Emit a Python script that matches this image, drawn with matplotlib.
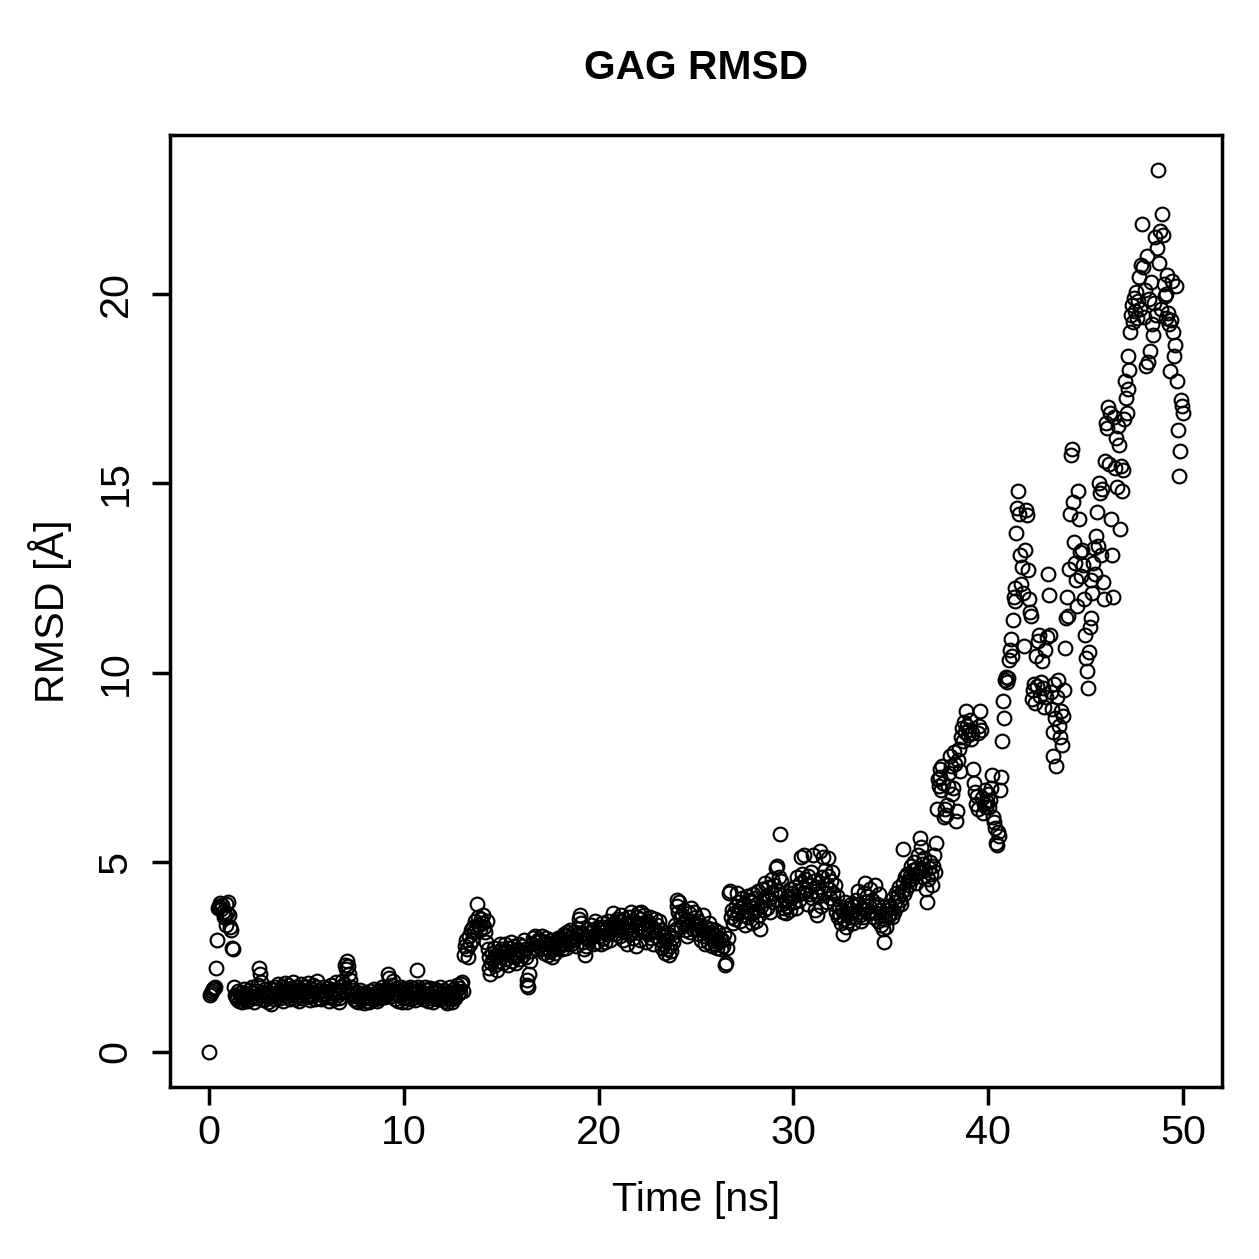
import matplotlib
matplotlib.use("Agg")
import matplotlib.pyplot as plt
import numpy as np

plt.rcParams['font.family'] = ['Liberation Sans', 'DejaVu Sans']

# RMSD of the GAG chain, one frame every 0.05 ns
dt = 0.05
rmsd = [
    # 0 ns
    0.00, 1.50, 1.55, 1.60, 1.65, 1.68, 1.72, 2.20, 2.95, 3.80,
    3.85, 3.92, 3.78, 3.88, 3.70, 3.55, 3.62, 3.35, 3.90, 3.65,
    # 1 ns
    3.95, 3.60, 3.30, 3.20, 2.75, 2.70, 1.70, 1.50, 1.45, 1.40,
    1.60, 1.35, 1.55, 1.45, 1.30, 1.50, 1.65, 1.40, 1.55, 1.35,
    # 2 ns
    1.50, 1.62, 1.38, 1.45, 1.70, 1.55, 1.32, 1.48, 1.60, 1.42,
    1.75, 2.20, 2.05, 1.85, 1.58, 1.40, 1.52, 1.36, 1.65, 1.47,
    # 3 ns
    1.55, 1.30, 1.44, 1.68, 1.25, 1.50, 1.62, 1.38, 1.72, 1.56,
    1.45, 1.80, 1.60, 1.42, 1.53, 1.70, 1.35, 1.58, 1.82, 1.64,
    # 4 ns
    1.48, 1.75, 1.55, 1.40, 1.68, 1.52, 1.85, 1.60, 1.38, 1.70,
    1.46, 1.58, 1.35, 1.65, 1.78, 1.50, 1.42, 1.62, 1.55, 1.72,
    # 5 ns
    1.60, 1.45, 1.82, 1.52, 1.36, 1.66, 1.48, 1.75, 1.58, 1.40,
    1.70, 1.87, 1.55, 1.42, 1.63, 1.38, 1.50, 1.72, 1.46, 1.60,
    # 6 ns
    1.52, 1.44, 1.68, 1.35, 1.58, 1.76, 1.48, 1.62, 1.40, 1.55,
    1.85, 1.66, 1.50, 1.42, 1.30, 1.57, 1.70, 1.88, 1.62, 1.78,
    # 7 ns
    2.30, 2.18, 2.40, 2.25, 2.05, 1.90, 1.70, 1.55, 1.62, 1.40,
    1.48, 1.35, 1.58, 1.30, 1.45, 1.62, 1.50, 1.38, 1.55, 1.28,
    # 8 ns
    1.42, 1.55, 1.35, 1.48, 1.30, 1.60, 1.45, 1.38, 1.52, 1.66,
    1.40, 1.50, 1.35, 1.58, 1.46, 1.62, 1.42, 1.55, 1.70, 1.48,
    # 9 ns
    1.58, 1.44, 1.65, 1.52, 2.05, 1.95, 1.62, 1.48, 1.75, 1.88,
    1.55, 1.40, 1.68, 1.52, 1.35, 1.60, 1.46, 1.72, 1.30, 1.55,
    # 10 ns
    1.65, 1.42, 1.55, 1.30, 1.48, 1.62, 1.72, 1.40, 1.56, 1.68,
    1.45, 1.58, 1.36, 1.52, 2.15, 1.70, 1.62, 1.50, 1.44, 1.58,
    # 11 ns
    1.38, 1.55, 1.70, 1.46, 1.62, 1.35, 1.52, 1.68, 1.42, 1.58,
    1.30, 1.48, 1.65, 1.55, 1.40, 1.60, 1.45, 1.72, 1.38, 1.54,
    # 12 ns
    1.46, 1.62, 1.35, 1.50, 1.28, 1.44, 1.58, 1.70, 1.40, 1.55,
    1.32, 1.48, 1.65, 1.42, 1.60, 1.75, 1.52, 1.68, 1.58, 1.80,
    # 13 ns
    1.85, 1.60, 2.55, 2.80, 2.95, 2.70, 2.50, 3.05, 2.85, 3.20,
    2.95, 3.30, 3.15, 3.45, 3.30, 3.90, 3.55, 3.35, 3.25, 3.50,
    # 14 ns
    3.40, 3.60, 3.30, 3.15, 2.90, 3.45, 2.70, 2.50, 2.20, 2.05,
    2.35, 2.60, 2.45, 2.75, 2.30, 2.55, 2.15, 2.40, 2.65, 2.85,
    # 15 ns
    2.50, 2.70, 2.35, 2.60, 2.85, 2.45, 2.65, 2.30, 2.75, 2.55,
    2.90, 2.40, 2.60, 2.80, 2.50, 2.35, 2.70, 2.55, 2.85, 2.45,
    # 16 ns
    2.65, 2.80, 2.55, 2.95, 2.70, 2.50, 1.75, 1.90, 1.70, 2.05,
    2.40, 2.65, 2.85, 3.00, 2.75, 3.05, 2.90, 2.70, 2.95, 2.80,
    # 17 ns
    2.95, 2.70, 3.05, 2.85, 2.60, 2.90, 3.00, 2.75, 2.55, 2.85,
    2.65, 2.95, 2.50, 2.80, 2.70, 2.60, 2.90, 2.75, 3.00, 2.85,
    # 18 ns
    2.80, 3.00, 2.70, 2.95, 3.10, 2.85, 3.05, 2.75, 3.15, 2.90,
    3.00, 3.20, 2.85, 3.05, 2.95, 3.15, 3.00, 2.80, 3.10, 3.25,
    # 19 ns
    3.50, 3.60, 3.40, 3.10, 2.90, 2.70, 2.55, 2.80, 3.00, 3.25,
    2.95, 3.15, 3.35, 3.05, 2.85, 3.20, 3.45, 3.10, 2.90, 3.30,
    # 20 ns
    3.05, 3.25, 2.85, 3.15, 3.40, 3.00, 3.30, 2.90, 3.20, 3.10,
    3.45, 3.15, 2.95, 3.35, 3.25, 3.65, 3.40, 3.10, 3.30, 3.50,
    # 21 ns
    3.20, 3.45, 3.05, 3.60, 3.30, 2.95, 3.50, 3.15, 3.40, 2.85,
    3.25, 3.55, 3.10, 3.70, 3.35, 3.00, 3.45, 3.20, 2.80, 3.55,
    # 22 ns
    3.65, 3.30, 3.50, 2.95, 3.70, 3.40, 3.15, 3.60, 3.25, 2.90,
    3.45, 3.10, 3.35, 3.55, 3.00, 3.30, 2.85, 3.20, 3.50, 3.05,
    # 23 ns
    3.35, 3.15, 3.45, 2.95, 3.20, 2.75, 3.05, 2.85, 2.60, 2.95,
    2.70, 3.10, 2.55, 2.80, 2.65, 3.00, 2.90, 3.15, 3.35, 3.25,
    # 24 ns
    4.00, 3.85, 3.70, 3.95, 3.55, 3.30, 3.60, 3.40, 3.75, 3.20,
    3.50, 3.05, 3.35, 3.65, 3.15, 3.80, 3.45, 3.25, 3.70, 3.40,
    # 25 ns
    3.55, 3.25, 3.45, 3.10, 3.35, 2.95, 3.20, 3.60, 3.05, 2.85,
    3.30, 3.15, 2.90, 3.40, 3.05, 3.25, 2.80, 3.10, 2.95, 3.20,
    # 26 ns
    2.85, 3.05, 2.75, 3.15, 2.90, 3.00, 2.70, 2.95, 2.80, 3.10,
    2.30, 2.35, 2.75, 3.00, 4.20, 4.25, 3.55, 3.75, 3.40, 3.65,
    # 27 ns
    3.50, 3.85, 4.20, 3.70, 3.95, 3.45, 3.80, 4.05, 3.60, 3.90,
    3.35, 3.75, 4.10, 3.55, 3.85, 4.00, 3.65, 3.40, 3.95, 4.15,
    # 28 ns
    3.70, 4.05, 3.45, 3.90, 4.25, 3.60, 3.25, 3.85, 4.30, 4.00,
    3.75, 4.45, 4.10, 3.80, 4.35, 4.05, 3.70, 4.20, 4.55, 3.95,
    # 29 ns
    4.40, 4.15, 4.85, 4.90, 4.25, 4.60, 5.75, 4.50, 3.90, 3.70,
    3.80, 4.00, 3.65, 3.85, 4.10, 3.95, 4.30, 3.75, 4.05, 4.20,
    # 30 ns
    4.10, 3.95, 4.35, 3.80, 4.60, 4.25, 4.00, 4.45, 5.15, 4.70,
    4.20, 5.20, 4.55, 4.30, 3.90, 4.65, 4.40, 4.15, 4.75, 4.05,
    # 31 ns
    5.20, 4.50, 3.75, 4.25, 3.60, 4.35, 4.10, 5.30, 3.85, 4.60,
    5.15, 4.20, 4.80, 4.40, 3.95, 4.65, 5.10, 4.30, 4.05, 4.50,
    # 32 ns
    4.75, 4.20, 3.90, 4.40, 3.70, 4.10, 3.55, 3.85, 3.60, 3.40,
    3.75, 3.10, 3.50, 3.95, 3.30, 3.65, 3.45, 3.80, 3.55, 3.90,
    # 33 ns
    3.65, 3.40, 3.85, 3.55, 4.00, 3.70, 4.25, 3.90, 3.60, 3.45,
    3.80, 3.55, 4.20, 4.45, 3.75, 3.95, 4.10, 3.65, 3.85, 4.30,
    # 34 ns
    3.70, 4.00, 3.55, 3.85, 4.40, 3.65, 3.90, 3.45, 4.15, 3.75,
    3.35, 3.60, 3.25, 2.90, 3.50, 3.30, 3.75, 3.55, 3.85, 3.65,
    # 35 ns
    3.80, 3.55, 4.05, 3.70, 3.95, 4.20, 3.85, 4.10, 4.35, 4.00,
    3.90, 4.25, 5.35, 4.45, 4.15, 4.60, 4.30, 4.70, 4.50, 4.40,
    # 36 ns
    4.65, 4.90, 4.55, 4.80, 5.00, 4.70, 4.45, 4.85, 5.20, 4.75,
    5.65, 5.40, 4.95, 4.60, 5.10, 4.80, 4.30, 3.95, 4.55, 4.85,
    # 37 ns
    5.00, 4.70, 4.40, 4.90, 5.20, 4.75, 5.50, 6.40, 7.20, 7.00,
    7.45, 7.25, 6.90, 7.55, 7.10, 6.20, 6.40, 6.25, 6.50, 7.00,
    # 38 ns
    7.35, 7.80, 7.55, 6.80, 6.95, 7.90, 7.60, 6.10, 6.35, 7.70,
    8.00, 7.40, 8.30, 8.55, 8.20, 8.70, 8.45, 9.00, 8.60, 8.35,
    # 39 ns
    8.50, 8.75, 8.25, 8.40, 7.45, 7.10, 6.85, 6.55, 6.75, 6.40,
    8.40, 8.60, 9.00, 8.50, 6.70, 6.30, 6.55, 6.90, 6.45, 6.60,
    # 40 ns
    6.80, 6.45, 6.65, 6.95, 7.30, 6.20, 6.05, 5.90, 5.50, 5.45,
    5.80, 5.70, 6.90, 7.25, 8.20, 9.25, 8.80, 9.80, 9.90, 9.75,
    # 41 ns
    9.85, 10.35, 10.60, 10.90, 10.45, 11.40, 12.00, 12.25, 11.90, 13.70,
    14.35, 14.80, 14.20, 13.10, 12.35, 12.80, 12.10, 10.70, 13.25, 14.30,
    # 42 ns
    14.15, 12.70, 11.95, 11.60, 11.50, 9.30, 9.55, 9.70, 9.20, 10.45,
    9.65, 10.85, 11.00, 9.40, 9.75, 10.30, 9.60, 9.10, 10.60, 9.35,
    # 43 ns
    10.95, 12.60, 12.05, 11.00, 9.50, 9.05, 7.80, 8.45, 9.70, 8.80,
    7.55, 9.35, 9.80, 8.60, 8.30, 9.00, 8.10, 8.85, 9.55, 10.65,
    # 44 ns
    11.45, 12.00, 11.50, 12.75, 14.20, 15.75, 15.90, 14.50, 13.45, 12.90,
    12.45, 11.75, 14.80, 14.05, 13.20, 12.55, 13.25, 12.85, 11.95, 11.00,
    # 45 ns
    10.40, 10.05, 9.60, 10.55, 11.20, 11.45, 12.45, 12.10, 12.90, 13.30,
    12.60, 13.60, 14.25, 13.35, 15.00, 14.75, 13.10, 14.85, 12.40, 11.95,
    # 46 ns
    15.60, 16.60, 16.45, 17.00, 15.50, 16.85, 14.05, 13.10, 12.00, 16.75,
    15.40, 16.20, 14.90, 16.50, 16.00, 13.80, 15.45, 14.80, 15.35, 16.70,
    # 47 ns
    17.70, 17.25, 16.85, 17.50, 18.35, 18.00, 19.00, 19.45, 19.70, 19.25,
    19.90, 19.55, 20.05, 19.35, 19.80, 20.45, 19.60, 20.75, 21.85, 20.70,
    # 48 ns
    19.40, 20.10, 18.10, 21.00, 18.20, 19.85, 18.50, 20.30, 19.20, 18.90,
    19.75, 21.50, 19.45, 21.20, 23.27, 20.80, 21.65, 19.60, 22.10, 21.55,
    # 49 ns
    20.25, 19.95, 19.35, 20.00, 20.50, 19.50, 19.20, 17.95, 19.30, 20.35,
    19.00, 18.35, 18.65, 20.20, 17.70, 16.40, 15.20, 15.85, 17.20, 17.05,
    # 50 ns
    16.85,
]
time_ns = np.arange(len(rmsd)) * dt

x_ticks = [0, 10, 20, 30, 40, 50]
y_ticks = [0, 5, 10, 15, 20]

W = H = 1259
fig = plt.figure(figsize=(W / 180, H / 180), dpi=180)
ax = fig.add_axes([170 / W, 1 - 1087 / H, (1222 - 170) / W, (1087 - 135) / H])

ax.plot(time_ns, rmsd, linestyle='none', marker='o', markersize=5.5,
        markerfacecolor='none', markeredgecolor='black', markeredgewidth=0.85)

# R-style 4% padding around the data
ax.set_xlim(-2, 52)
ax.set_ylim(-0.93, 24.19)
ax.set_xticks(x_ticks)
ax.set_yticks(y_ticks)
ax.set_yticklabels([str(v) for v in y_ticks], rotation=90, va='center')
ax.tick_params(direction='out', length=7.2, width=1.4, labelsize=16.5, color='black')
ax.tick_params(axis='x', pad=3.5)
ax.tick_params(axis='y', pad=7.0)
for s in ax.spines.values():
    s.set_linewidth(1.4)

fig.text(696 / W, 1 - 68 / H, 'GAG RMSD', ha='center', va='center',
         fontsize=16.3, fontweight='bold')
fig.text(696 / W, 1 - 1200 / H, 'Time [ns]', ha='center', va='center', fontsize=16.5)
fig.text(50 / W, 1 - 611 / H, 'RMSD [Å]', ha='center', va='center', rotation=90,
         fontsize=16.5)

fig.savefig('out.png', dpi=180)
